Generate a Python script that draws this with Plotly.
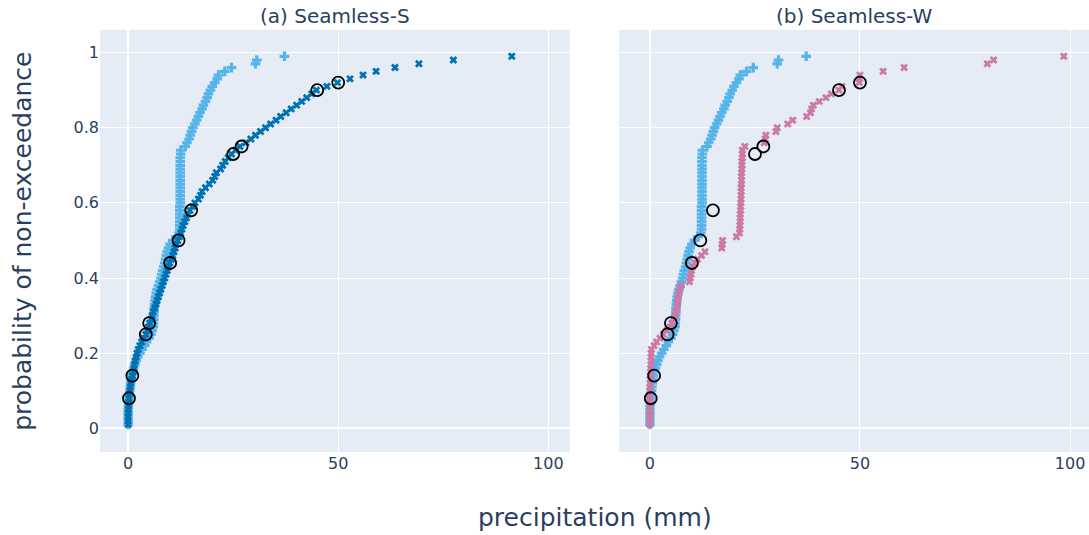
import plotly.graph_objects as go
from plotly.subplots import make_subplots

# probability of non-exceedance levels (plotting positions)
prob = [0.01, 0.02, 0.03, 0.04, 0.05, 0.06, 0.07, 0.08, 0.09,
        0.10, 0.11, 0.12, 0.13, 0.14, 0.15, 0.16, 0.17, 0.18, 0.19,
        0.20, 0.21, 0.22, 0.23, 0.24, 0.25, 0.26, 0.27, 0.28, 0.29,
        0.30, 0.31, 0.32, 0.33, 0.34, 0.35, 0.36, 0.37, 0.38, 0.39,
        0.40, 0.41, 0.42, 0.43, 0.44, 0.45, 0.46, 0.47, 0.48, 0.49,
        0.50, 0.51, 0.52, 0.53, 0.54, 0.55, 0.56, 0.57, 0.58, 0.59,
        0.60, 0.61, 0.62, 0.63, 0.64, 0.65, 0.66, 0.67, 0.68, 0.69,
        0.70, 0.71, 0.72, 0.73, 0.74, 0.75, 0.76, 0.77, 0.78, 0.79,
        0.80, 0.81, 0.82, 0.83, 0.84, 0.85, 0.86, 0.87, 0.88, 0.89,
        0.90, 0.91, 0.92, 0.93, 0.94, 0.95, 0.96, 0.97, 0.98, 0.99]

# reference (light blue +) quantiles, mm
ref_precip = [0, 0, 0, 0, 0, 0.05, 0.1, 0.2, 0.3,
              0.4, 0.5, 0.6, 0.7, 0.8, 1.0, 1.3, 1.6, 1.9, 2.3,
              2.8, 3.3, 3.9, 4.4, 5.0, 5.4, 5.7, 6.0, 6.0, 6.1,
              6.1, 6.2, 6.2, 6.3, 6.4, 6.5, 6.7, 6.9, 7.2, 7.5,
              7.8, 8.0, 8.2, 8.5, 8.7, 8.9, 9.1, 9.3, 9.6, 10.0,
              10.6, 11.5, 12.1, 12.3, 12.3, 12.3, 12.3, 12.3, 12.3, 12.3,
              12.4, 12.4, 12.4, 12.4, 12.4, 12.4, 12.4, 12.4, 12.4, 12.4,
              12.4, 12.4, 12.4, 12.5, 12.5, 13.6, 14.0, 14.5, 14.8, 15.1,
              15.4, 15.9, 16.3, 16.7, 17.1, 17.6, 17.9, 18.4, 18.8, 19.1,
              19.6, 20.0, 20.6, 21.2, 21.5, 23.0, 24.6, 30.3, 30.6, 37.2]

# Seamless-S (dark blue x) quantiles, mm
seamless_s = [0, 0, 0, 0, 0.05, 0.1, 0.15, 0.2, 0.3,
              0.4, 0.5, 0.6, 0.8, 1.0, 1.2, 1.4, 1.5, 1.7, 1.9,
              2.1, 2.4, 2.8, 3.2, 3.7, 4.2, 4.5, 4.8, 5.1, 5.4,
              5.7, 6.0, 6.3, 6.6, 6.9, 7.2, 7.5, 7.8, 8.1, 8.4,
              8.7, 9.0, 9.3, 9.6, 9.9, 10.3, 10.6, 10.9, 11.2, 11.5,
              11.8, 12.2, 12.5, 12.8, 13.1, 13.5, 13.9, 14.3, 14.7, 15.3,
              15.9, 16.7, 17.2, 17.6, 18.4, 19.3, 20.1, 20.6, 21.0, 22.0,
              22.5, 23.1, 23.8, 24.6, 25.6, 26.6, 28.0, 29.2, 30.3, 31.5,
              32.7, 33.9, 35.2, 36.3, 37.6, 38.8, 40.1, 41.3, 42.5, 43.7,
              44.8, 47.3, 49.8, 52.8, 55.9, 59.0, 63.5, 69.2, 77.4, 91.3]

# Seamless-W (pink x) quantiles, mm
seamless_w = [0, 0, 0, 0, 0, 0, 0, 0, 0,
              0, 0, 0.05, 0.1, 0.1, 0.15, 0.2, 0.25, 0.3, 0.3,
              0.3, 0.4, 1.0, 1.6, 2.4, 3.2, 4.0, 4.8, 5.2, 5.6,
              6.0, 6.2, 6.4, 6.5, 6.6, 6.8, 6.9, 7.1, 7.4, 9.4,
              9.6, 9.8, 9.9, 10.2, 10.7, 11.3, 12.3, 13.1, 17.1, 17.2,
              17.3, 20.6, 21.3, 21.4, 21.4, 21.5, 21.5, 21.5, 21.6, 21.6,
              21.6, 21.7, 21.7, 21.7, 21.7, 21.8, 21.8, 21.8, 21.8, 21.9,
              21.9, 21.9, 22.0, 22.0, 22.0, 22.6, 27.2, 27.4, 27.6, 30.0,
              30.3, 32.8, 34.0, 37.3, 38.2, 38.5, 38.9, 40.3, 41.9, 43.2,
              45.0, 45.7, 49.8, 49.9, 50.0, 55.5, 60.5, 80.3, 81.8, 98.5]

# observations (black open circles)
obs_precip = [0.2, 1.0, 4.2, 5.0, 10.0, 12.0, 15.0, 25.0, 27.0, 45.0, 50.0]
obs_prob = [0.08, 0.14, 0.25, 0.28, 0.44, 0.50, 0.58, 0.73, 0.75, 0.90, 0.92]

panel_titles = ["(a) Seamless-S", "(b) Seamless-W"]

C_REF = "#56B4E9"
C_S = "#0072B2"
C_W = "#CC79A7"
FONT = "DejaVu Sans"
TXT = "#2a3f5f"

fig = make_subplots(rows=1, cols=2, shared_yaxes=True,
                    horizontal_spacing=0.05, subplot_titles=panel_titles)

for col, (series, color) in enumerate([(seamless_s, C_S), (seamless_w, C_W)], start=1):
    fig.add_trace(go.Scatter(x=ref_precip, y=prob, mode="markers",
                             marker=dict(symbol="cross", size=8, color=C_REF,
                                         line=dict(width=0)),
                             showlegend=False), row=1, col=col)
    fig.add_trace(go.Scatter(x=series, y=prob, mode="markers",
                             marker=dict(symbol="x", size=7, color=color,
                                         line=dict(width=0)),
                             showlegend=False), row=1, col=col)
    fig.add_trace(go.Scatter(x=obs_precip, y=obs_prob, mode="markers",
                             marker=dict(symbol="circle-open", size=12, color="black",
                                         line=dict(width=1.8, color="black")),
                             showlegend=False), row=1, col=col)

fig.update_xaxes(dtick=50, tickfont=dict(size=16, family=FONT))
fig.update_xaxes(range=[-6.7, 105.1], row=1, col=1)
fig.update_xaxes(range=[-7.3, 104.5], row=1, col=2)
fig.update_yaxes(range=[-0.063, 1.060], dtick=0.2, tickfont=dict(size=16, family=FONT))

for ann in fig.layout.annotations:
    ann.font = dict(size=20, color=TXT, family=FONT)

fig.add_annotation(text="precipitation (mm)", xref="paper", yref="paper",
                   x=0.5, y=-0.156, xanchor="center", yanchor="middle",
                   showarrow=False, font=dict(size=25, color=TXT, family=FONT))
fig.add_annotation(text="probability of non-exceedance", xref="paper", yref="paper",
                   x=-0.079, y=0.5, xanchor="center", yanchor="middle", textangle=-90,
                   showarrow=False, font=dict(size=25, color=TXT, family=FONT))

fig.update_layout(width=1089, height=535, template="plotly",
                  font=dict(family=FONT),
                  margin=dict(l=100, r=0, t=30, b=83), showlegend=False)

fig.write_html("out.html")
